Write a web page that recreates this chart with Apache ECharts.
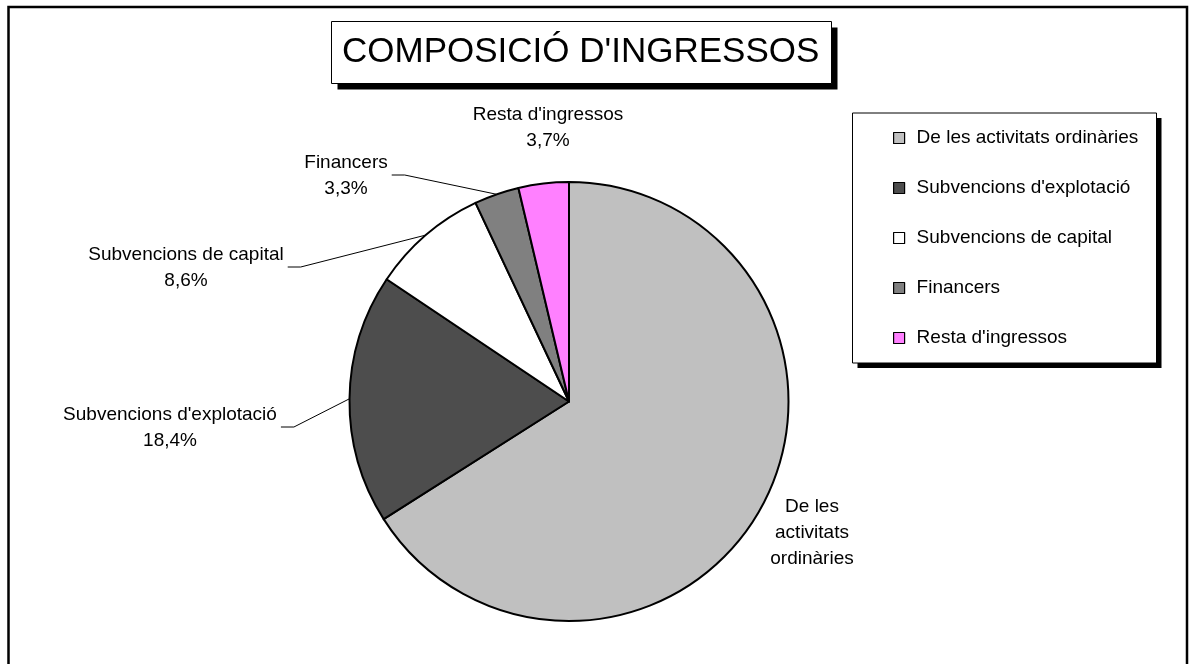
<!DOCTYPE html>
<html>
<head>
<meta charset="utf-8">
<script src="https://cdn.jsdelivr.net/npm/echarts@6/dist/echarts.min.js"></script>
<style>
  html, body { margin: 0; padding: 0; background: #fff; }
  #chart { width: 1194px; height: 664px; }
</style>
</head>
<body>
<div id="chart"></div>
<script>
// dades del gràfic
const categories = [
  'De les activitats ordinàries',
  "Subvencions d'explotació",
  'Subvencions de capital',
  'Financers',
  "Resta d'ingressos"
]
const values = [66.0, 18.4, 8.6, 3.3, 3.7]
const colors = ['#c0c0c0', '#4d4d4d', '#ffffff', '#808080', '#ff80ff']

// posició (centre) de cada etiqueta, com a l'original d'Excel
const labelCenters = [[812, 533], [170, 428], [186, 268], [346, 176], [548, 128]]
const showLine = [false, true, true, true, false]

const FONT = 'Liberation Sans, Arial, sans-serif'

let myChart = echarts.init(document.getElementById('chart'))

// caixa amb ombra negra desplaçada (estil Excel)
function shadowBox(x, y, w, h, off) {
  return [
    { type: 'rect', shape: { x: x + off, y: y + off, width: w, height: h }, style: { fill: '#000' }, z: 0 },
    { type: 'rect', shape: { x: x, y: y, width: w, height: h }, style: { fill: '#fff', stroke: '#000', lineWidth: 1 }, z: 1 }
  ]
}

const option = {
  animation: false,
  title: {
    text: 'COMPOSICIÓ D\'INGRESSOS',
    left: 331,
    top: 22,
    padding: [13, 11, 13, 11],
    textStyle: {
      fontFamily: FONT,
      fontSize: 35,
      fontWeight: 'normal',
      lineHeight: 35,
      color: '#000'
    },
    z: 10
  },
  legend: {
    orient: 'vertical',
    left: 852,
    top: 113,
    padding: [15, 16, 16, 41],
    itemGap: 30,
    itemWidth: 11,
    itemHeight: 11,
    icon: 'rect',
    selectedMode: false,
    itemStyle: { borderColor: '#000', borderWidth: 1.2 },
    textStyle: {
      fontFamily: FONT,
      fontSize: 19,
      lineHeight: 20,
      color: '#000',
      padding: [0, 0, 0, 7]
    },
    z: 10,
    data: categories
  },
  graphic: [
    {
      type: 'rect',
      shape: { x: 8.5, y: 7, width: 1178.5, height: 700 },
      style: { fill: 'none', stroke: '#000', lineWidth: 2.5 },
      z: 0
    },
    ...shadowBox(331.5, 21.5, 500, 62, 6),
    ...shadowBox(852.5, 113, 304, 250, 5)
  ],
  series: [
    {
      type: 'pie',
      center: [569, 401.5],
      radius: 219.5,
      startAngle: 90,
      clockwise: true,
      avoidLabelOverlap: false,
      itemStyle: { borderColor: '#000', borderWidth: 2 },
      label: {
        show: true,
        position: 'outside',
        fontFamily: FONT,
        fontSize: 19,
        lineHeight: 26,
        color: '#000',
        formatter: function (p) {
          if (p.dataIndex === 0) return 'De les\nactivitats\nordinàries'
          return p.name + '\n' + p.value.toFixed(1).replace('.', ',') + '%'
        }
      },
      labelLine: {
        show: true,
        lineStyle: { color: '#000', width: 1 }
      },
      labelLayout: function (params) {
        const c = labelCenters[params.dataIndex]
        const res = { x: c[0], y: c[1], align: 'center', verticalAlign: 'middle' }
        if (showLine[params.dataIndex] && params.labelLinePoints) {
          const right = c[0] + params.labelRect.width / 2
          res.labelLinePoints = [
            params.labelLinePoints[0],
            [right + 17, c[1] - 1],
            [right + 4, c[1] - 1]
          ]
        }
        return res
      },
      data: categories.map((name, i) => ({
        name: name,
        value: values[i],
        itemStyle: { color: colors[i] },
        labelLine: { show: showLine[i] }
      }))
    }
  ]
}

myChart.setOption(option)
</script>
</body>
</html>
